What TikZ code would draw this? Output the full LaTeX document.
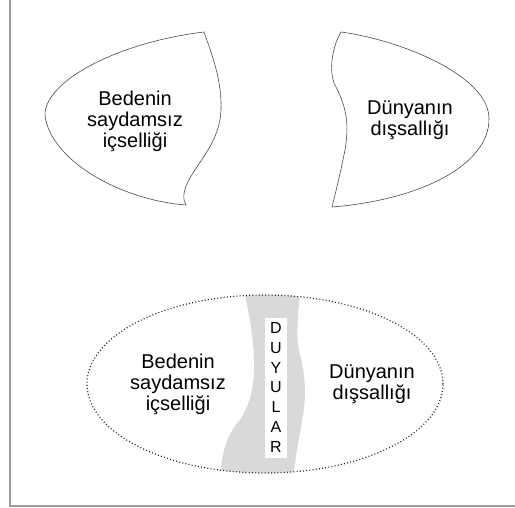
\documentclass[tikz,border=0pt]{standalone}
\usepackage{fontspec}
\setmainfont{Liberation Sans}
\usetikzlibrary{shapes.geometric}
\begin{document}
\begin{tikzpicture}[x=1pt,y=-1pt,
  lbl/.style={align=center,font=\fontsize{20}{21}\selectfont,inner sep=0pt},
  blob/.style={draw=black!70,line width=0.6pt},
  frameline/.style={draw=black!38,line width=1.6pt},
  letter/.style={font=\fontsize{16}{18}\selectfont,inner sep=0pt}]
\useasboundingbox (0,0) rectangle (515,508);

% page frame (left and bottom edges)
\draw[frameline] (10,0) -- (10,506) -- (515,506);

% upper left: the body
\draw[blob] (204,32) .. controls (212,55) and (222,80) .. (221,110)
  .. controls (220,140) and (200,160) .. (190,178)
  .. controls (182,192) and (183,200) .. (186,205)
  .. controls (120,200) and (50,160) .. (45,115)
  .. controls (45,80) and (120,42) .. (204,32) -- cycle;
\node[lbl] (body1) at (135,121) {Bedenin\\saydamsız\\içselliği};

% upper right: the world
\draw[blob] (341,32) .. controls (333,45) and (328,70) .. (335,85)
  .. controls (345,105) and (350,120) .. (345,150)
  .. controls (340,175) and (335,195) .. (332,207)
  .. controls (420,200) and (490,165) .. (489,118)
  .. controls (488,75) and (400,40) .. (341,32) -- cycle;
\node[lbl] (world1) at (410,120) {Dünyanın\\dışsallığı};

% lower part: both joined by the senses
\begin{scope}
  \clip (265,384) ellipse [x radius=178, y radius=89];
  \fill[black!15] (243,285) -- (301,285)
    .. controls (297,320) and (296,340) .. (300,355)
    .. controls (306,375) and (306,400) .. (303,415)
    .. controls (300,435) and (294,460) .. (293,485)
    -- (220,485)
    .. controls (220,450) and (230,430) .. (240,420)
    .. controls (250,405) and (255,385) .. (254,360)
    .. controls (253,330) and (248,310) .. (243,285) -- cycle;
\end{scope}
\node[draw=black!85,line width=1.2pt,dash pattern=on 1pt off 2.2pt,
  ellipse,minimum width=356,minimum height=178,inner sep=0pt] (whole) at (265,384) {};

\node[fill=white,minimum width=22,minimum height=140,inner sep=0pt] (senses) at (276,388) {};
\foreach \ch [count=\k from 0] in {D,U,Y,U,L,A,R}
  \node[letter] (s\k) at (276,{328+19.8*\k}) {\ch};

\node[lbl] (body2) at (178,384) {Bedenin\\saydamsız\\içselliği};
\node[lbl] (world2) at (372,384) {Dünyanın\\dışsallığı};
\end{tikzpicture}
\end{document}
